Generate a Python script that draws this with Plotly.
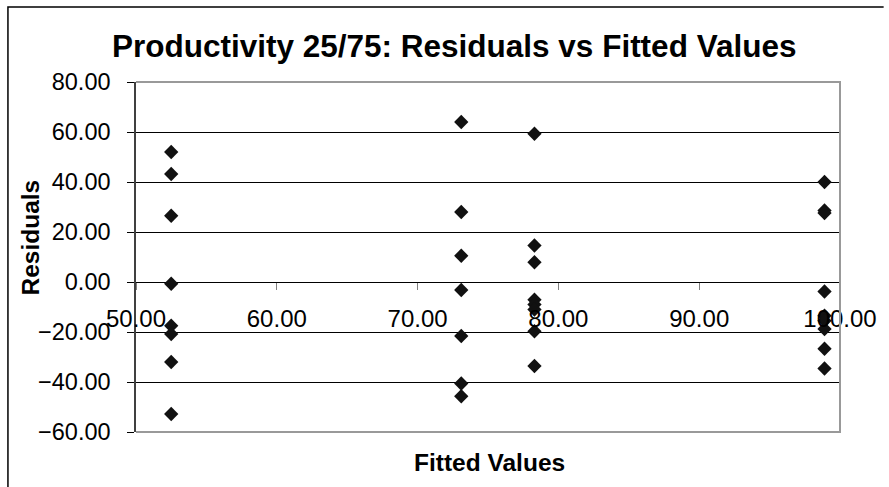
import plotly.graph_objects as go

# Data
fitted_values = [
    52.5, 52.5, 52.5, 52.5, 52.5, 52.5, 52.5, 52.5,
    73.1, 73.1, 73.1, 73.1, 73.1, 73.1, 73.1,
    78.3, 78.3, 78.3, 78.3, 78.3, 78.3, 78.3, 78.3,
    98.9, 98.9, 98.9, 98.9, 98.9, 98.9, 98.9, 98.9, 98.9,
]
residuals = [
    52.0, 43.2, 26.5, -0.7, -17.5, -20.8, -32.0, -52.8,
    64.0, 28.0, 10.5, -3.2, -21.6, -40.6, -45.7,
    59.3, 14.6, 7.9, -7.1, -9.0, -11.0, -19.7, -33.6,
    40.0, 28.6, 27.6, -3.8, -13.5, -15.5, -18.8, -26.7, -34.6,
]
x_ticks = [50, 60, 70, 80, 90, 100]
y_ticks = [-60, -40, -20, 0, 20, 40, 60, 80]

title_text = "Productivity 25/75: Residuals vs Fitted Values"
x_title = "Fitted Values"
y_title = "Residuals"

FONT = "Liberation Sans, Arial, sans-serif"

fig = go.Figure()
fig.add_trace(go.Scatter(
    x=fitted_values, y=residuals, mode="markers",
    marker=dict(symbol="diamond", size=11, color="#111111", line=dict(width=0)),
    showlegend=False, cliponaxis=False,
))

ymin, ymax = -60, 80
fig.update_layout(
    width=889, height=487,
    margin=dict(l=136, r=44, t=82, b=55),
    paper_bgcolor="white", plot_bgcolor="white",
    font=dict(family=FONT, color="black", size=24),
    title=dict(text="<b>" + title_text + "</b>", x=0.452, xref="paper",
               y=1 - 46 / 487, yref="container", xanchor="center", yanchor="middle",
               font=dict(size=31.5, family=FONT, color="black")),
    xaxis=dict(range=[50, 100], tickvals=x_ticks, tickformat=".2f",
               showgrid=False, zeroline=False, showline=False,
               ticks="outside", ticklen=7, tickcolor="#808080", tickwidth=1,
               anchor="free", position=(0 - ymin) / (ymax - ymin),
               ticklabelstandoff=8,
               tickfont=dict(size=24, family=FONT, color="black")),
    yaxis=dict(range=[ymin, ymax], tickvals=y_ticks, tickformat=".2f",
               showgrid=True, gridcolor="black", gridwidth=1, zeroline=False,
               showline=True, linecolor="#404040", linewidth=1.5,
               ticks="outside", ticklen=7, tickcolor="black", tickwidth=1,
               ticklabelstandoff=12,
               tickfont=dict(size=23.5, family=FONT, color="black")),
    annotations=[
        dict(text="<b>" + x_title + "</b>", xref="paper", yref="paper",
             x=0.502, y=-0.086, xanchor="center", yanchor="middle",
             showarrow=False, font=dict(size=24.5, family=FONT, color="black")),
        dict(text="<b>" + y_title + "</b>", xref="paper", yref="paper",
             x=-0.1495, y=0.555, xanchor="center", yanchor="middle", textangle=-90,
             showarrow=False, font=dict(size=24.5, family=FONT, color="black")),
    ],
    shapes=[
        # plot area border (top, right, bottom)
        dict(type="path", xref="paper", yref="paper",
             path="M 0 1 L 1 1 L 1 0 L 0 0",
             line=dict(color="#999999", width=2), layer="above"),
        # chart area border (only left and top visible)
        dict(type="path", xref="paper", yref="paper",
             path="M -0.1819 -0.157 L -0.1819 1.2143 L 1.062 1.2143",
             line=dict(color="black", width=1.5), layer="above"),
    ],
)

fig.write_html("out.html")
